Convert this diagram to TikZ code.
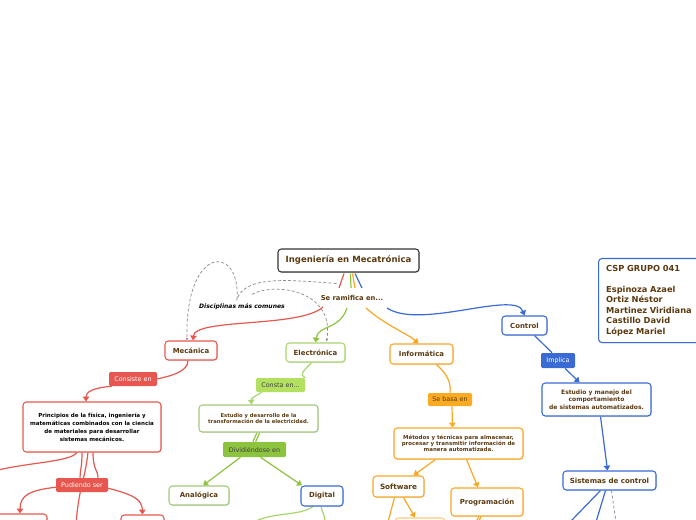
\documentclass[tikz,border=0pt]{standalone}
\usepackage{fontspec}
\setmainfont{DejaVu Sans}
\usetikzlibrary{arrows.meta,shadows,calc}
\definecolor{tbrown}{HTML}{5B3A10}
\definecolor{tdark}{HTML}{333333}
\definecolor{cred}{HTML}{E8574F}
\definecolor{cgreenl}{HTML}{A8D46C}
\definecolor{cgreenf}{HTML}{B3E060}
\definecolor{cgreen}{HTML}{8CC43F}
\definecolor{cgreenb}{HTML}{A3C97A}
\definecolor{corange}{HTML}{FBA623}
\definecolor{cblue}{HTML}{3A6AD4}
\definecolor{cdash}{HTML}{8A8A8A}
\pgfdeclarelayer{bg}
\pgfsetlayers{bg,main}
\begin{document}
\begin{tikzpicture}[x=0.75pt,y=-0.75pt,
  box/.style={draw, rounded corners=2.5pt, fill=white, line width=0.8pt,
    drop shadow={shadow xshift=0.6pt, shadow yshift=-0.7pt, opacity=0.25},
    font=\bfseries\fontsize{5.2}{6.2}\selectfont, text=tbrown, align=center, inner sep=1pt},
  lbl/.style={rounded corners=1pt, inner sep=1pt, font=\fontsize{4.8}{5.8}\selectfont, align=center},
  con/.style={line width=0.9pt},
  tip/.style={-{Triangle[length=3.6pt,width=4.8pt]}},
  rel/.style={cdash, line width=0.55pt, dash pattern=on 2.2pt off 1.6pt},
]
\useasboundingbox (0,0) rectangle (696,520);

% ---------- nodes ----------
\node[box, draw=tdark, minimum width=105.75pt, minimum height=17.25pt,
  font=\bfseries\fontsize{6.4}{7.4}\selectfont] (title) at (348.5,260.5) {Ingeniería en Mecatrónica};
\node[font=\bfseries\fontsize{5.1}{6}\selectfont, text=tbrown, inner sep=1pt] (ram) at (352,298) {Se ramifica en...};
\node[font=\bfseries\itshape\fontsize{4.55}{6}\selectfont, inner sep=1pt] (disc) at (242,307) {Disciplinas más comunes};

\node[box, draw=cred, minimum width=39pt, minimum height=14.25pt] (mec) at (191,350.5) {Mecánica};
\node[box, draw=cgreenl, minimum width=44.25pt, minimum height=14.25pt] (elec) at (315.5,352.5) {Electrónica};
\node[box, draw=corange, minimum width=47.25pt, minimum height=15pt] (info) at (421.5,354) {Informática};
\node[box, draw=cblue, minimum width=33.75pt, minimum height=14.25pt] (ctrl) at (524.5,325.5) {Control};

\node[box, draw=cblue, anchor=north west, text width=71pt, inner xsep=5.75pt, minimum height=63pt,
  align=left, font=\bfseries\fontsize{6.2}{7.9}\selectfont] (csp) at (598,258)
  {CSP GRUPO 041\\[7.9pt]Espinoza Azael\\Ortiz Néstor\\Martinez Viridiana\\Castillo David\\López Mariel};

\node[lbl, fill=cred, text=white, minimum width=36pt, minimum height=10.5pt] (consiste) at (133,379) {Consiste en};
\node[box, draw=cred, text=black, minimum width=103.5pt, minimum height=37.5pt,
  font=\bfseries\fontsize{4.15}{6}\selectfont] (princ) at (92,427)
  {Principios de la física, ingeniería y\\matemáticas combinados con la ciencia\\de materiales para desarrollar\\sistemas mecánicos.};
\node[lbl, fill=cred, text=white, minimum width=39pt, minimum height=10.5pt] (pud) at (82,485) {Pudiendo ser};
\node[box, draw=cred, minimum width=39pt, minimum height=16.5pt] (hidr) at (21,525) {Hidráulicos};
\node[box, draw=cred, minimum width=32.25pt, minimum height=18pt] (mec2) at (142.5,527) {};

\node[lbl, fill=cgreenf, text=black!75, minimum width=36.75pt, minimum height=10.5pt] (consta) at (280.5,385) {Consta en...};
\node[box, draw=cgreenb, minimum width=89.25pt, minimum height=20.25pt,
  font=\bfseries\fontsize{3.95}{5.1}\selectfont] (estel) at (258.5,418.5)
  {Estudio y desarrollo de la\\transformación de la electricidad.};
\node[lbl, fill=cgreen, text=black!75, minimum width=47.25pt, minimum height=11.25pt] (divid) at (254.5,449.5) {Dividiéndose en};
\node[box, draw=cgreenb, minimum width=45pt, minimum height=14.25pt] (analog) at (199,495.5) {Analógica};
\node[box, draw=cblue, minimum width=31.5pt, minimum height=15pt] (digital) at (322,496) {Digital};

\node[lbl, fill=corange!95!yellow, text=tbrown, minimum width=33pt, minimum height=9.75pt] (sebasa) at (450,399.5) {Se basa en};
\node[box, draw=corange, minimum width=96.75pt, minimum height=23.25pt,
  font=\bfseries\fontsize{4.1}{4.7}\selectfont] (metodos) at (458.5,443.5)
  {Métodos y técnicas para almacenar,\\procesar y transmitir información de\\manera automatizada.};
\node[box, draw=corange, minimum width=38.25pt, minimum height=15.75pt, font=\bfseries\fontsize{5.45}{6.2}\selectfont] (soft) at (398.5,486.5) {Software};
\node[box, draw=corange, minimum width=54pt, minimum height=21pt] (prog) at (487,502) {Programación};
\node[box, draw=corange!60, minimum width=37.5pt, minimum height=19.5pt] (soft2) at (420,531) {};

\node[lbl, fill=cblue, text=white, minimum width=25.5pt, minimum height=11.25pt] (impl) at (558,360.5) {Implica};
\node[box, draw=cblue, minimum width=81.75pt, minimum height=24.75pt,
  font=\bfseries\fontsize{4.5}{5.8}\selectfont] (estman) at (596.5,399.5)
  {Estudio y manejo del\\comportamiento\\de sistemas automatizados.};
\node[box, draw=cblue, minimum width=69.75pt, minimum height=14.25pt, font=\bfseries\fontsize{5.3}{6.2}\selectfont] (sist) at (609.5,480.5) {Sistemas de control};

\coordinate (offL) at (-6,471);
\coordinate (offB1) at (76,526);
\coordinate (offB2) at (256,521);
\coordinate (offB3) at (325,522);
\coordinate (offB4) at (388,522);
\coordinate (offB5) at (477,522);
\coordinate (offB6) at (570,522);
\coordinate (offB7) at (596,522);
\coordinate (offB8) at (616,522);

% ---------- connectors ----------
\begin{pgfonlayer}{bg}
% title to ramifica
\draw[con, cred] ($(title.south)+(-4.5,1)$) -- ($(ram.center)+(-13,-10)$);
\draw[con, cgreen] ($(title.south)+(2,1)$) -- ($(ram.center)+(-1,-10)$);
\draw[con, corange] ($(title.south)+(4,1)$) -- ($(ram.center)+(3,-10)$);
\draw[con, cblue] ($(title.south)+(6.5,1)$) -- ($(ram.center)+(10,-10)$);
% ramifica to disciplines
\draw[con, cred, tip] ($(ram.center)+(-29,9)$) .. controls (300,328) and (195,318) .. ($(mec.north)+(2,0)$);
\draw[con, cgreen, tip] ($(ram.center)+(-5,10)$) .. controls (340,330) and (318,325) .. (elec.north);
\draw[con, corange, tip] ($(ram.center)+(14,10)$) .. controls (385,325) and (408,334) .. ($(info.north)+(-3,0)$);
\draw[con, cblue, tip] ($(ram.center)+(35,10)$) .. controls (420,330) and (515,290) .. (ctrl.north);
% dashed relationships
\draw[rel, -{Latex[length=2pt,width=2pt]}] ($(title.south)+(-12,11)$) .. controls (290,280) and (245,275) .. ($(disc.north)+(-5,-3)$)
   .. controls (241,244) and (185,244) .. ($(mec.north)+(-4,0)$);
\draw[rel, -{Latex[length=2pt,width=2pt]}] ($(disc.north)+(10,-8)$) .. controls (275,282) and (335,290) .. ($(elec.north)+(11,-1)$);
% mecanica
\draw[con, cred] ($(mec.south)+(-3,0)$) .. controls (188,372) and (170,376) .. (consiste.east);
\draw[con, cred, tip] ($(consiste.south west)+(3,0)$) .. controls (92,388) and (86,392) .. ($(princ.north)+(-6,0)$);
\draw[con, cred] ($(princ.south)+(-15,0)$) .. controls (70,462) and (30,462) .. (offL);
\draw[con, cred] ($(princ.south)+(-10,0)$) .. controls (82,468) and (80,470) .. ($(pud.north)+(-2,0)$);
\draw[con, cred] ($(princ.south)+(-4,0)$) .. controls (85,480) and (78,490) .. (offB1);
\draw[con, cred] ($(princ.south)+(1,0)$) .. controls (93,470) and (98,470) .. ($(pud.north)+(16,0)$);
\draw[con, cred, tip] ($(pud.west)+(2,2)$) .. controls (30,490) and (20,495) .. ($(hidr.north)+(-1,0)$);
\draw[con, cred, tip] ($(pud.east)+(-1,3)$) .. controls (135,495) and (142,500) .. (mec2.north);
% electronica
\draw[con, cgreenl] ($(elec.south)+(-4,0)$) .. controls (305,370) and (298,374) .. (consta.north east);
\draw[con, cgreenl, tip] ($(consta.south west)+(6,0)$) .. controls (256,396) and (251,398) .. ($(estel.north)+(-7,0)$);
\draw[con, cgreen] ($(estel.south)+(-1.5,0)$) -- ($(divid.north)+(-1.5,0)$);
\draw[con, cgreen] ($(estel.south)+(1.2,0)$) -- ($(divid.north)+(1.2,0)$);
\draw[con, cgreen, tip] ($(divid.south)+(-14,0)$) -- ($(analog.north)+(4,0)$);
\draw[con, cgreen, tip] ($(divid.south)+(6,0)$) -- ($(digital.north)+(-20,0)$);
\draw[con, cgreenl] ($(digital.south)+(-9,0)$) .. controls (300,516) and (275,512) .. (offB2);
\draw[con, cgreenl] ($(digital.south)+(-1,0)$) .. controls (322,512) and (325,515) .. (offB3);
% informatica
\draw[con, corange] ($(info.south)+(15,0)$) .. controls (448,375) and (451,383) .. (sebasa.north);
\draw[con, corange, tip] ($(sebasa.south)+(2,0)$) -- ($(metodos.north)+(-6,0)$);
\draw[con, corange, tip] ($(metodos.south)+(-23,0)$) -- ($(soft.north)+(15,0)$);
\draw[con, corange, tip] ($(metodos.south)+(8,0)$) -- ($(prog.north)+(-9,0)$);
\draw[con, corange] ($(soft.south)+(-4,0)$) -- (offB4);
\draw[con, corange, tip] ($(soft.south)+(5,0)$) -- ($(soft2.north)+(-5,0)$);
\draw[con, corange] ($(prog.south)+(-8,0)$) -- ($(offB5)+(-1,0)$);
\draw[con, corange] ($(prog.south)+(-6,0)$) -- ($(offB5)+(1.5,0)$);
% control
\draw[con, cblue] ($(ctrl.south)+(10,0)$) -- ($(impl.north)+(-6,0)$);
\draw[con, cblue, tip] ($(impl.south)+(7,0)$) -- ($(estman.north)+(-17,0)$);
\draw[con, cblue, tip] ($(estman.south)+(4,0)$) -- ($(sist.north)+(-2,0)$);
\draw[con, cblue] ($(sist.south)+(-9,0)$) -- (offB6);
\draw[con, cblue] ($(sist.south)+(-4,0)$) -- (offB7);
\draw[rel] ($(sist.south)+(2,0)$) -- (offB8);
\end{pgfonlayer}
\end{tikzpicture}
\end{document}
